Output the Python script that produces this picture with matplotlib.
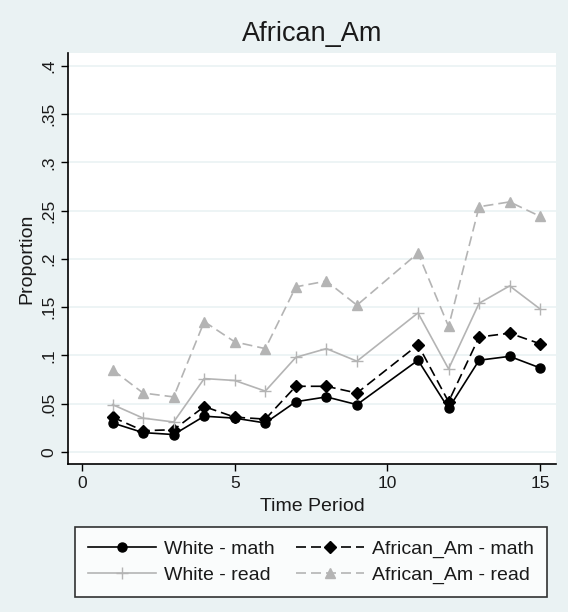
import numpy as np
import matplotlib
matplotlib.use('Agg')
import matplotlib.pyplot as plt

plt.rcParams['font.family'] = ['Liberation Sans', 'DejaVu Sans']

# Data (no period 10)
periods = [1, 2, 3, 4, 5, 6, 7, 8, 9, 11, 12, 13, 14, 15]
white_math = [0.030, 0.020, 0.018, 0.037, 0.035, 0.030, 0.052, 0.057, 0.049, 0.095, 0.045, 0.095, 0.099, 0.087]
afam_math = [0.036, 0.022, 0.023, 0.047, 0.036, 0.034, 0.068, 0.068, 0.061, 0.111, 0.052, 0.119, 0.123, 0.112]
white_read = [0.049, 0.035, 0.031, 0.076, 0.074, 0.063, 0.098, 0.107, 0.094, 0.144, 0.086, 0.154, 0.172, 0.148]
afam_read = [0.085, 0.061, 0.057, 0.135, 0.114, 0.107, 0.171, 0.177, 0.152, 0.206, 0.130, 0.254, 0.259, 0.244]

yticks = [0, 0.05, 0.1, 0.15, 0.2, 0.25, 0.3, 0.35, 0.4]
ytick_labels = ['0', '.05', '.1', '.15', '.2', '.25', '.3', '.35', '.4']
xticks = [0, 5, 10, 15]

bg = '#eaf2f3'
gray = '#b4b4b4'
txt = '#1a1a1a'

fig = plt.figure(figsize=(5.68, 6.12), dpi=100, facecolor=bg)
ax = fig.add_axes([0.1197, 0.242, 0.8593, 0.671])
ax.set_facecolor('white')

l1, = ax.plot(periods, white_math, color='black', lw=1.2, marker='o', ms=6.5, label='White - math')
l2, = ax.plot(periods, afam_math, color='black', lw=1.2, ls=(0, (6, 3)), marker='D', ms=6.5, label='African_Am - math')
l3, = ax.plot(periods, white_read, color=gray, lw=1.2, marker='+', ms=8, mew=1.0, label='White - read')
l4, = ax.plot(periods, afam_read, color=gray, lw=1.2, ls=(0, (6, 3)), marker='^', ms=7.5, label='African_Am - read')

ax.set_xlim(-0.46, 15.52)
ax.set_ylim(-0.0124, 0.413)
ax.set_yticks(yticks)
ax.set_yticklabels(ytick_labels, rotation=90, va='center', fontsize=12.5, color=txt)
ax.set_xticks(xticks)
ax.tick_params(axis='x', labelsize=12.5, labelcolor=txt)
ax.tick_params(direction='out', length=5, width=1)

for y in yticks:
    ax.axhline(y, color=bg, lw=1.2, zorder=0)

for s in ['top', 'right']:
    ax.spines[s].set_visible(False)
ax.spines['left'].set_linewidth(1.2)
ax.spines['bottom'].set_linewidth(1.2)

ax.set_title('African_Am', fontsize=19.5, pad=9, color=txt)
ax.set_xlabel('Time Period', fontsize=14, labelpad=5, color=txt)
ax.set_ylabel('Proportion', fontsize=14, color=txt)
ax.yaxis.set_label_coords(-0.066, 0.5)

# column-wise fill: math on row 1, read on row 2
leg = fig.legend([l1, l3, l2, l4], [l.get_label() for l in [l1, l3, l2, l4]],
                 loc='lower left', bbox_to_anchor=(75 / 568, 15 / 612, 472 / 568, 69 / 612),
                 mode='expand', ncol=2, fontsize=14,
                 frameon=True, fancybox=False, edgecolor='black', facecolor='white',
                 handlelength=3.5, handletextpad=0.45, columnspacing=0.6, borderpad=0.65,
                 labelspacing=0.45, borderaxespad=0)
leg.get_frame().set_linewidth(1.2)
for t in leg.get_texts():
    t.set_color(txt)

plt.savefig('out.png', dpi=100, facecolor=bg)
